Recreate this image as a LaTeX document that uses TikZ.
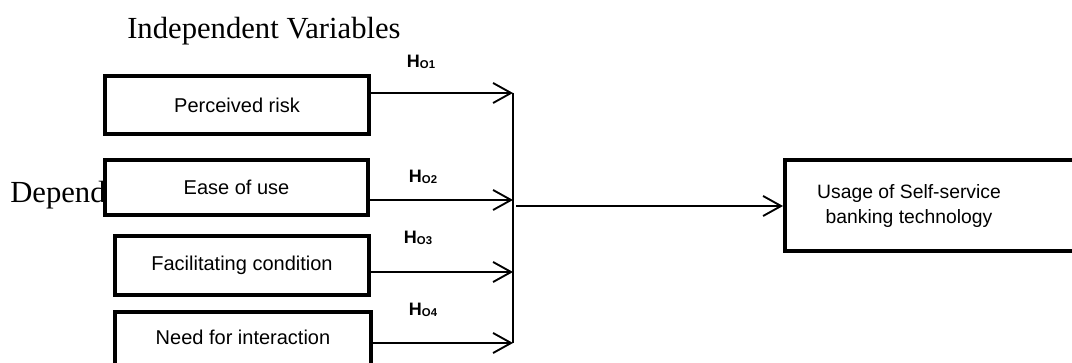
\documentclass[tikz,border=0pt]{standalone}
\usepackage{fontspec}
\setmainfont{Liberation Serif}
\setsansfont{Liberation Sans}
\usetikzlibrary{arrows.meta}
\newcommand{\hyp}[1]{\sffamily\bfseries\fontsize{13.5}{15}\selectfont H\raisebox{-1pt}{\fontsize{8.5}{10}\selectfont O#1}}
\begin{document}
\begin{tikzpicture}[x=0.75pt,y=-0.75pt,
  box/.style={draw, line width=3pt, fill=white, inner sep=0pt,
    font=\sffamily\fontsize{15}{18}\selectfont},
  conn/.style={line width=1.4pt},
  arr/.style={conn, -{Straight Barb[length=13.5pt,width=15pt,line width=1.4pt]}},
  hlabel/.style={inner sep=0pt},
  title/.style={font=\rmfamily\fontsize{23}{27}\selectfont, inner sep=0pt, anchor=base west}]
\useasboundingbox (0,0) rectangle (1072,363);
\begin{scope}
\clip (0,0) rectangle (1072,363);

\node[title] (indep) at (127,39) {Independent Variables};
\node[title] (dep) at (10,203) {Depend};

\node[box, minimum width=198pt, minimum height=43.5pt] (b1) at (237,105) {Perceived risk};
\node[box, minimum width=197.25pt, minimum height=41.25pt] (b2) at (236.5,187.5) {Ease of use};
\node[box, minimum width=190.5pt, minimum height=44.25pt] (b3) at (242,265.5) {Facilitating condition};
\node[box, minimum width=192pt, minimum height=66pt, text height=11pt, text depth=28.5pt] (b4) at (243,356) {Need for interaction};

\node[box, minimum width=236.25pt, minimum height=68.25pt] (usage) at (942.5,205.5) {};
\node[align=center, inner sep=0pt, font=\sffamily\fontsize{14.5}{18.75}\selectfont] (usagetext) at (909,206) {Usage of Self-service\\banking technology};

\coordinate (j1) at (513,93);
\coordinate (j2) at (513,200);
\coordinate (j3) at (513,272);
\coordinate (j4) at (513,343);
\coordinate (m) at (516,206);

\draw[arr] (b1.east |- j1) -- (j1);
\draw[arr] (b2.east |- j2) -- (j2);
\draw[arr] (b3.east |- j3) -- (j3);
\draw[arr] (b4.east |- j4) -- (j4);
\draw[conn] (j1) -- (j4);
\draw[arr] (m) -- (usage.west |- m);

\node[hlabel] (h1) at (421,62) {\hyp{1}};
\node[hlabel] (h2) at (423,177) {\hyp{2}};
\node[hlabel] (h3) at (418,238) {\hyp{3}};
\node[hlabel] (h4) at (423,310) {\hyp{4}};
\end{scope}
\end{tikzpicture}
\end{document}
